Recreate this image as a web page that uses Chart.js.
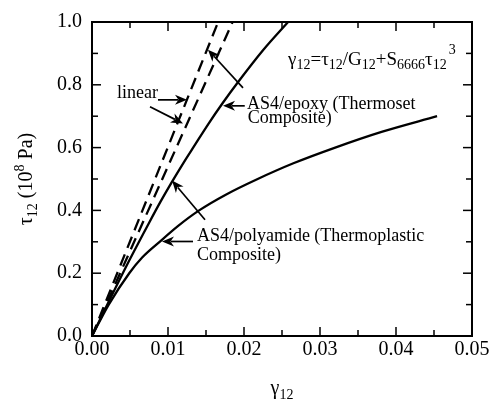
<!DOCTYPE html>
<html><head><meta charset="utf-8">
<script src="https://cdn.jsdelivr.net/npm/chart.js@4/dist/chart.umd.min.js"></script>
<style>html,body{margin:0;padding:0;background:#fff}#wrap{width:492px;height:401px}</style>
</head><body><div id="wrap"><canvas id="c" width="492" height="401"></canvas></div>
<script>
// ---- data ----
const epoxyX = [0, 0.0025, 0.005, 0.0075, 0.009, 0.0105, 0.012, 0.0135, 0.0153, 0.0172, 0.0192, 0.0225, 0.0258];
const epoxyY = [0, 0.124, 0.245, 0.36, 0.427, 0.49, 0.55, 0.607, 0.675, 0.742, 0.808, 0.91, 1.0];
const polyX = [0, 0.0022, 0.0049, 0.0066, 0.0089, 0.0113, 0.0141, 0.0176, 0.0218, 0.0265, 0.0320, 0.0381, 0.0454];
const polyY = [0, 0.10, 0.20, 0.25, 0.30, 0.35, 0.40, 0.45, 0.50, 0.55, 0.60, 0.65, 0.70];
const linear1X = [0, 0.0166];
const linear1Y = [0, 1.0];
const linear2X = [0, 0.0185];
const linear2Y = [0, 1.0];
const xTickValues = [0, 0.01, 0.02, 0.03, 0.04, 0.05];
const xTickLabels = ['0.00', '0.01', '0.02', '0.03', '0.04', '0.05'];
const yTickValues = [0, 0.2, 0.4, 0.6, 0.8, 1.0];
const yTickLabels = ['0.0', '0.2', '0.4', '0.6', '0.8', '1.0'];
const xMinorValues = [0.005, 0.015, 0.025, 0.035, 0.045];
const yMinorValues = [0.1, 0.3, 0.5, 0.7, 0.9];

// annotation texts (data coordinates of left/middle anchor)
const labelTexts = [
  {t: 'linear', x: 0.00329, y: 0.774},
  {t: 'AS4/epoxy (Thermoset', x: 0.0204, y: 0.737},
  {t: 'Composite)', x: 0.0205, y: 0.693},
  {t: 'AS4/polyamide (Thermoplastic', x: 0.0138, y: 0.317},
  {t: 'Composite)', x: 0.0138, y: 0.256}
];
// arrows: tail -> head in data coordinates
const arrows = [
  [0.00868, 0.752, 0.0125, 0.752],
  [0.00763, 0.730, 0.01197, 0.677],
  [0.0201, 0.733, 0.01724, 0.733],
  [0.01987, 0.790, 0.01526, 0.912],
  [0.01487, 0.370, 0.01053, 0.495],
  [0.01329, 0.301, 0.00921, 0.301]
];
const formulaPos = {x: 0.0258, y: 0.881};

const pts = (xs, ys) => xs.map((x, i) => ({x: x, y: ys[i]}));
const FONT = "'Liberation Serif', 'Times New Roman', serif";

const overlay = {
  id: 'overlay',
  afterDraw(chart) {
    const ctx = chart.ctx;
    const xs = chart.scales.x, ys = chart.scales.y;
    const a = chart.chartArea;
    ctx.save();
    ctx.strokeStyle = '#000';
    ctx.fillStyle = '#000';
    // frame
    ctx.lineWidth = 2;
    ctx.strokeRect(a.left, a.top, a.right - a.left, a.bottom - a.top);
    // ticks
    ctx.lineWidth = 1.5;
    const tick = (x1, y1, x2, y2) => { ctx.beginPath(); ctx.moveTo(x1, y1); ctx.lineTo(x2, y2); ctx.stroke(); };
    xTickValues.forEach(v => { const p = xs.getPixelForValue(v); tick(p, a.bottom, p, a.bottom - 9); tick(p, a.top, p, a.top + 9); });
    xMinorValues.forEach(v => { const p = xs.getPixelForValue(v); tick(p, a.bottom, p, a.bottom - 6); tick(p, a.top, p, a.top + 6); });
    yTickValues.forEach(v => { const p = ys.getPixelForValue(v); tick(a.left, p, a.left + 9, p); tick(a.right, p, a.right - 9, p); });
    yMinorValues.forEach(v => { const p = ys.getPixelForValue(v); tick(a.left, p, a.left + 6, p); tick(a.right, p, a.right - 6, p); });

    // arrows
    ctx.lineWidth = 1.7;
    arrows.forEach(ar => {
      const x1 = xs.getPixelForValue(ar[0]), y1 = ys.getPixelForValue(ar[1]);
      const x2 = xs.getPixelForValue(ar[2]), y2 = ys.getPixelForValue(ar[3]);
      const ang = Math.atan2(y2 - y1, x2 - x1);
      const L = 12, W = 5;
      const bx = x2 - L * Math.cos(ang), by = y2 - L * Math.sin(ang);
      tick(x1, y1, bx + 3 * Math.cos(ang), by + 3 * Math.sin(ang));
      ctx.beginPath();
      ctx.moveTo(x2, y2);
      ctx.lineTo(bx + W * Math.sin(ang), by - W * Math.cos(ang));
      ctx.lineTo(bx + 3.5 * Math.cos(ang), by + 3.5 * Math.sin(ang));
      ctx.lineTo(bx - W * Math.sin(ang), by + W * Math.cos(ang));
      ctx.closePath();
      ctx.fill();
    });

    // labels
    ctx.font = '18px ' + FONT;
    ctx.textAlign = 'left';
    ctx.textBaseline = 'middle';
    labelTexts.forEach(l => ctx.fillText(l.t, xs.getPixelForValue(l.x), ys.getPixelForValue(l.y)));

    // formula with sub/superscripts
    ctx.textBaseline = 'alphabetic';
    const parts = [
      ['\u03B3', 0], ['12', 1], ['=\u03C4', 0], ['12', 1], ['/G', 0], ['12', 1],
      ['+S', 0], ['6666', 1], ['\u03C4', 0], ['12', 1], ['3', 2]
    ];
    let fx = xs.getPixelForValue(formulaPos.x);
    const fb = ys.getPixelForValue(formulaPos.y) + 6;
    parts.forEach(p => {
      if (p[1] === 0) { ctx.font = '19px ' + FONT; ctx.fillText(p[0], fx, fb); fx += ctx.measureText(p[0]).width; }
      else if (p[1] === 1) { ctx.font = '14px ' + FONT; ctx.fillText(p[0], fx, fb + 4); fx += ctx.measureText(p[0]).width; }
      else { ctx.font = '14px ' + FONT; ctx.fillText(p[0], fx + 2, fb - 11); fx += ctx.measureText(p[0]).width; }
    });

    // x axis title
    ctx.font = '20px ' + FONT;
    const gW = ctx.measureText('\u03B3').width;
    ctx.font = '14px ' + FONT;
    const sW = ctx.measureText('12').width;
    let tx = (a.left + a.right) / 2 - (gW + sW) / 2;
    ctx.font = '20px ' + FONT;
    ctx.fillText('\u03B3', tx, 394);
    ctx.font = '14px ' + FONT;
    ctx.fillText('12', tx + gW, 399);

    // y axis title (rotated)
    ctx.save();
    ctx.translate(32, (a.top + a.bottom) / 2);
    ctx.rotate(-Math.PI / 2);
    const yparts = [['\u03C4', 0], ['12', 1], [' (10', 0], ['8', 2], [' Pa)', 0]];
    let total = 0;
    yparts.forEach(p => { ctx.font = (p[1] === 0 ? '20px ' : '14px ') + FONT; total += ctx.measureText(p[0]).width; });
    let yx = -total / 2;
    yparts.forEach(p => {
      ctx.font = (p[1] === 0 ? '20px ' : '14px ') + FONT;
      const dy = p[1] === 1 ? 5 : (p[1] === 2 ? -8 : 0);
      ctx.fillText(p[0], yx, dy);
      yx += ctx.measureText(p[0]).width;
    });
    ctx.restore();
    ctx.restore();
  }
};

const solid = {borderColor: '#000', borderWidth: 2.3, pointRadius: 0, showLine: true, fill: false, cubicInterpolationMode: 'monotone'};
const dashed = {borderColor: '#000', borderWidth: 2.3, pointRadius: 0, showLine: true, fill: false, borderDash: [12, 7]};

new Chart(document.getElementById('c'), {
  type: 'scatter',
  data: {
    datasets: [
      Object.assign({label: 'AS4/epoxy', data: pts(epoxyX, epoxyY)}, solid),
      Object.assign({label: 'AS4/polyamide', data: pts(polyX, polyY)}, solid),
      Object.assign({label: 'linear 1', data: pts(linear1X, linear1Y)}, dashed),
      Object.assign({label: 'linear 2', data: pts(linear2X, linear2Y)}, dashed)
    ]
  },
  options: {
    responsive: false,
    animation: false,
    devicePixelRatio: 1,
    layout: {padding: {top: 17, right: 20, left: 0, bottom: 0}},
    plugins: {legend: {display: false}, tooltip: {enabled: false}},
    scales: {
      x: {
        type: 'linear', min: 0, max: 0.05,
        grid: {display: false, drawTicks: false}, border: {display: false},
        afterBuildTicks: s => { s.ticks = xTickValues.map(v => ({value: v})); },
        afterFit: s => { s.height = 65; },
        ticks: {
          color: '#000', padding: 2, maxRotation: 0, autoSkip: false,
          font: {family: FONT, size: 20},
          callback: (v) => { const i = xTickValues.findIndex(t => Math.abs(t - v) < 1e-9); return i >= 0 ? xTickLabels[i] : ''; }
        }
      },
      y: {
        type: 'linear', min: 0, max: 1.0,
        grid: {display: false, drawTicks: false}, border: {display: false},
        afterBuildTicks: s => { s.ticks = yTickValues.map(v => ({value: v})); },
        afterFit: s => { s.width = 92; },
        ticks: {
          color: '#000', padding: 10, autoSkip: false,
          font: {family: FONT, size: 20},
          callback: (v) => { const i = yTickValues.findIndex(t => Math.abs(t - v) < 1e-9); return i >= 0 ? yTickLabels[i] : ''; }
        }
      }
    }
  },
  plugins: [overlay]
});
</script>
</body></html>
